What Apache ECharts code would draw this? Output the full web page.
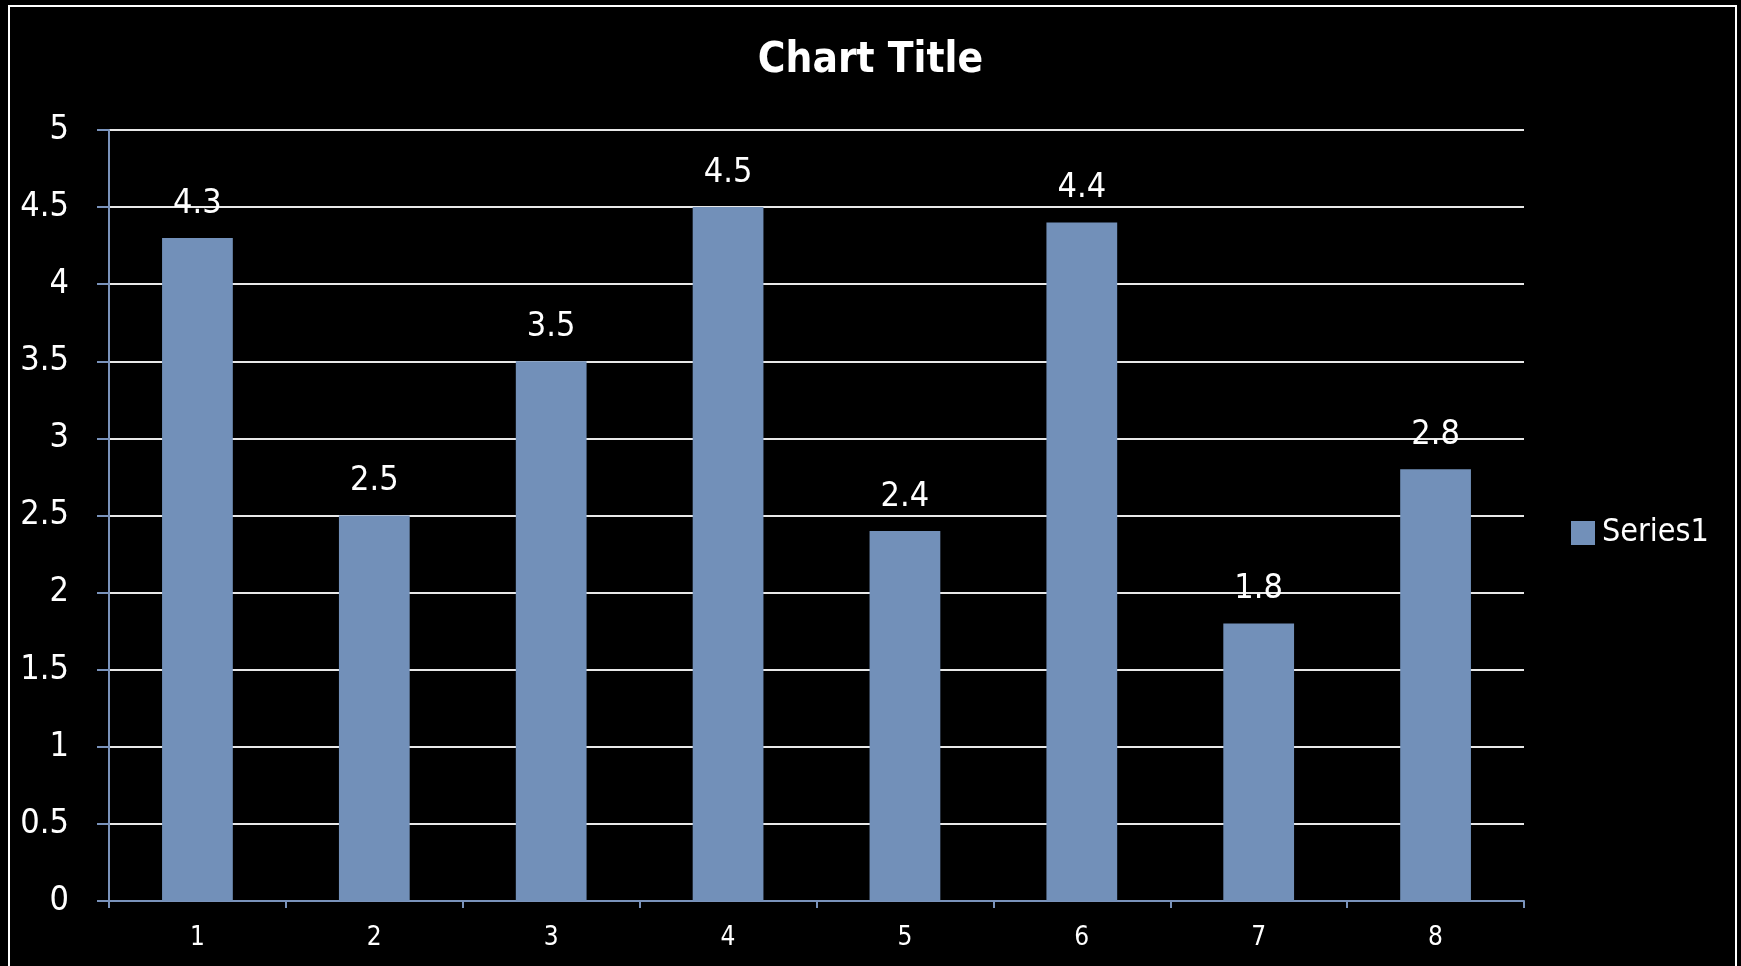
<!DOCTYPE html>
<html>
<head>
<meta charset="utf-8">
<style>
html,body{margin:0;padding:0;background:#000;}
#c{width:1741px;height:966px;}
</style>
<script src="https://cdn.jsdelivr.net/npm/echarts@6/dist/echarts.min.js"></script>
</head>
<body>
<div id="c"></div>
<script>
const categories = ['1','2','3','4','5','6','7','8'];
const series1 = [4.3, 2.5, 3.5, 4.5, 2.4, 4.4, 1.8, 2.8];
const seriesName = 'Series1';
const titleText = 'Chart Title';

const FONT = "'DejaVu Sans Condensed', 'Liberation Sans Narrow', sans-serif";
const BAR = '#7290b9';
const AXIS = '#7a93bb';

const chart = echarts.init(document.getElementById('c'));
chart.setOption({
  backgroundColor: '#000',
  animation: false,
  title: {
    text: titleText,
    left: 'center',
    top: 35,
    textStyle: {color: '#fff', fontFamily: FONT, fontWeight: 'bold', fontSize: 42}
  },
  legend: {
    data: [seriesName],
    left: 1566,
    top: 512,
    icon: 'rect',
    itemWidth: 24,
    itemHeight: 24,
    itemGap: 10,
    textStyle: {color: '#fff', fontFamily: FONT, fontSize: 32, padding: [0,0,0,2]}
  },
  grid: {left: 109, right: 1741 - 1524, top: 130, bottom: 966 - 901, containLabel: false},
  xAxis: {
    type: 'category',
    data: categories,
    axisLine: {lineStyle: {color: AXIS, width: 2}},
    axisTick: {show: true, length: 7, lineStyle: {color: AXIS, width: 2}},
    axisLabel: {color: '#fff', fontFamily: FONT, fontSize: 26, margin: 24}
  },
  yAxis: {
    type: 'value',
    min: 0, max: 5, interval: 0.5,
    axisLine: {show: true, lineStyle: {color: AXIS, width: 2}},
    axisTick: {show: true, length: 12, lineStyle: {color: AXIS, width: 2}},
    axisLabel: {color: '#fff', fontFamily: FONT, fontSize: 34, margin: 40},
    splitLine: {lineStyle: {color: '#e8e8e8', width: 2}}
  },
  series: [{
    name: seriesName,
    type: 'bar',
    data: series1,
    barWidth: '40%',
    itemStyle: {color: BAR},
    label: {show: true, position: 'top', distance: 17, color: '#fff', fontFamily: FONT, fontSize: 34}
  }],
  graphic: [{
    type: 'rect',
    shape: {x: 9, y: 6, width: 1727, height: 1000},
    style: {fill: 'none', stroke: '#fff', lineWidth: 2},
    silent: true
  }]
});
</script>
</body>
</html>
